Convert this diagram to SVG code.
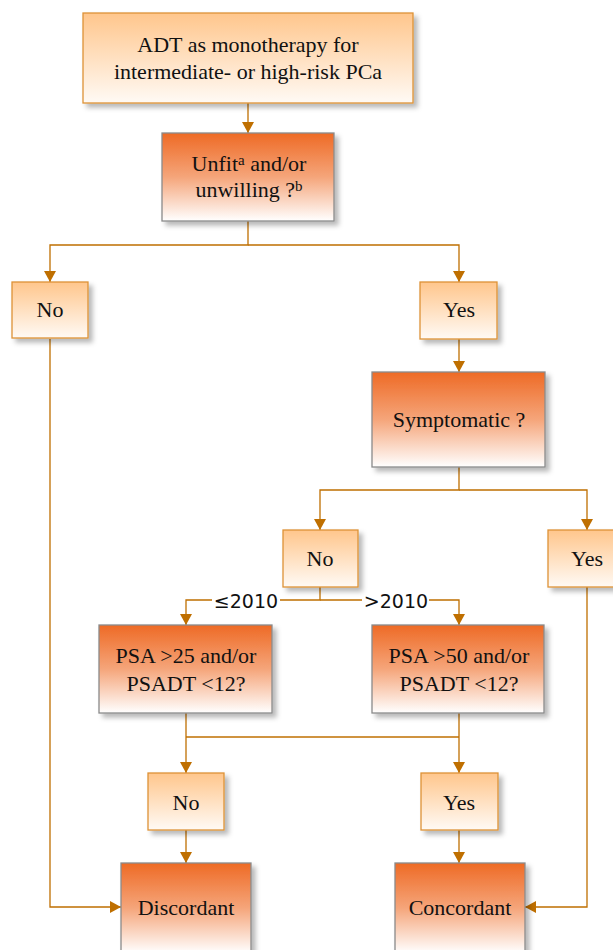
<svg xmlns="http://www.w3.org/2000/svg" width="613" height="950" viewBox="0 0 613 950">
<defs>
<linearGradient id="gLight" x1="0" y1="0" x2="0" y2="1">
<stop offset="0" stop-color="#FFC68C"/>
<stop offset="1" stop-color="#FFFAF5"/>
</linearGradient>
<linearGradient id="gDark" x1="0" y1="0" x2="0" y2="1">
<stop offset="0" stop-color="#EE6A25"/>
<stop offset="0.5" stop-color="#F5A57A"/>
<stop offset="1" stop-color="#FFFFFF"/>
</linearGradient>
<filter id="shadow" x="-10%" y="-10%" width="130%" height="130%">
<feDropShadow dx="4" dy="4" stdDeviation="2.5" flood-color="#000" flood-opacity="0.28"/>
</filter>
<marker id="arr" viewBox="0 0 11 12" refX="11" refY="6" markerWidth="11" markerHeight="12" markerUnits="userSpaceOnUse" orient="auto">
<path d="M0,0 L11,6 L0,12 z" fill="#BF6F00"/>
</marker>
</defs>
<style>
.light{fill:url(#gLight);stroke:#DD9236;stroke-width:1.3;filter:url(#shadow)}
.dark{fill:url(#gDark);stroke:#8A8A8A;stroke-width:1.3;filter:url(#shadow)}
.t{font-family:"Liberation Serif","Times New Roman",serif;font-size:22px;fill:#111;text-anchor:middle}
.sup{font-size:15px}
.c{fill:none;stroke:#BF6F00;stroke-width:1.3}
.lbl{font-family:"DejaVu Sans",sans-serif;font-size:19px;fill:#111;text-anchor:middle}
</style>

<g id="connectors">
<path class="c" d="M248,103 V133" marker-end="url(#arr)"/>
<path class="c" d="M248,221 V245 H50 V282" marker-end="url(#arr)"/>
<path class="c" d="M248,245 H459 V282" marker-end="url(#arr)"/>
<path class="c" d="M459,339 V372" marker-end="url(#arr)"/>
<path class="c" d="M459,467 V490 H320 V530" marker-end="url(#arr)"/>
<path class="c" d="M459,490 H587 V530" marker-end="url(#arr)"/>
<path class="c" d="M320,587 V600 H186 V625" marker-end="url(#arr)"/>
<path class="c" d="M320,600 H459 V625" marker-end="url(#arr)"/>
<rect x="212" y="590" width="68" height="20" fill="#fff"/>
<rect x="362" y="588" width="67" height="22" fill="#fff"/>
<text class="lbl" x="246" y="608">≤2010</text>
<text class="lbl" x="396" y="608">&gt;2010</text>
<path class="c" d="M186,713 V773" marker-end="url(#arr)"/>
<path class="c" d="M459,713 V773" marker-end="url(#arr)"/>
<path class="c" d="M186,737 H459"/>
<path class="c" d="M186,830 V863" marker-end="url(#arr)"/>
<path class="c" d="M459,830 V863" marker-end="url(#arr)"/>
<path class="c" d="M50,339 V907 H121" marker-end="url(#arr)"/>
<path class="c" d="M587,587 V907 H525" marker-end="url(#arr)"/>
</g>

<g id="start">
<rect class="light" x="83" y="13" width="330" height="90"/>
<text class="t" x="248" y="52">ADT as monotherapy for</text>
<text class="t" x="248" y="79">intermediate- or high-risk PCa</text>
</g>

<g id="unfit">
<rect class="dark" x="162" y="133" width="172" height="88"/>
<text class="t" x="249" y="171">Unfit<tspan class="sup" dy="-6">a</tspan><tspan dy="6"> and/or</tspan></text>
<text class="t" x="249" y="197">unwilling ?<tspan class="sup" dy="-6">b</tspan></text>
</g>

<g id="no1">
<rect class="light" x="12" y="282" width="76" height="56"/>
<text class="t" x="50" y="317">No</text>
</g>

<g id="yes1">
<rect class="light" x="420" y="282" width="77" height="57"/>
<text class="t" x="459" y="317">Yes</text>
</g>

<g id="symptomatic">
<rect class="dark" x="372" y="372" width="173" height="95"/>
<text class="t" x="459" y="427">Symptomatic ?</text>
</g>

<g id="no2">
<rect class="light" x="283" y="530" width="75" height="57"/>
<text class="t" x="320" y="566">No</text>
</g>

<g id="yes2">
<rect class="light" x="548" y="530" width="77" height="57"/>
<text class="t" x="587" y="566">Yes</text>
</g>

<g id="psa25">
<rect class="dark" x="99" y="625" width="173" height="88"/>
<text class="t" x="186" y="663">PSA &gt;25 and/or</text>
<text class="t" x="186" y="691">PSADT &lt;12?</text>
</g>

<g id="psa50">
<rect class="dark" x="372" y="625" width="172" height="88"/>
<text class="t" x="459" y="663">PSA &gt;50 and/or</text>
<text class="t" x="459" y="691">PSADT &lt;12?</text>
</g>

<g id="no3">
<rect class="light" x="148" y="773" width="76" height="57"/>
<text class="t" x="186" y="810">No</text>
</g>

<g id="yes3">
<rect class="light" x="421" y="773" width="77" height="57"/>
<text class="t" x="459" y="810">Yes</text>
</g>

<g id="discordant">
<rect class="dark" x="121" y="863" width="130" height="90"/>
<text class="t" x="186" y="915">Discordant</text>
</g>

<g id="concordant">
<rect class="dark" x="395" y="863" width="130" height="90"/>
<text class="t" x="460" y="915">Concordant</text>
</g>
</svg>
